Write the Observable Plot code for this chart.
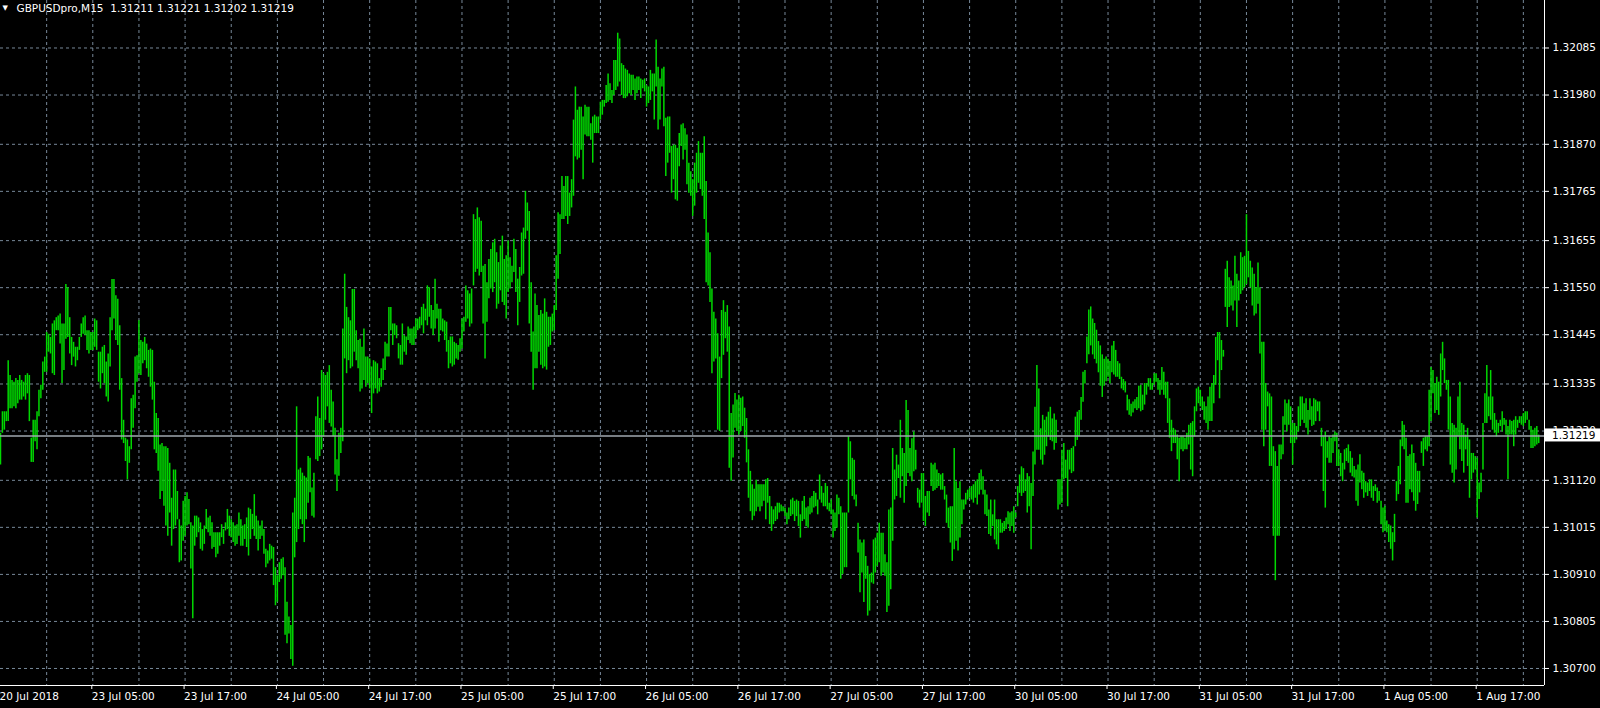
<!DOCTYPE html>
<html><head><meta charset="utf-8">
<script src="https://cdn.jsdelivr.net/npm/d3@7"></script>
<script src="https://cdn.jsdelivr.net/npm/@observablehq/plot@0.6"></script>
<style>
html,body{margin:0;padding:0;background:#000;overflow:hidden}
#chart svg{display:block}
</style></head><body><div id="chart"></div>
<script>
const symbol = "GBPUSDpro";
const period = "M15";
const lastBar = {open: 1.31211, high: 1.31221, low: 1.31202, close: 1.31219};
const timeLabels = ["20 Jul 2018","23 Jul 05:00","23 Jul 17:00","24 Jul 05:00","24 Jul 17:00","25 Jul 05:00","25 Jul 17:00","26 Jul 05:00","26 Jul 17:00","27 Jul 05:00","27 Jul 17:00","30 Jul 05:00","30 Jul 17:00","31 Jul 05:00","31 Jul 17:00","1 Aug 05:00","1 Aug 17:00"];
const priceTicks = [1.32085,1.31980,1.31870,1.31765,1.31655,1.31550,1.31445,1.31335,1.31230,1.31120,1.31015,1.30910,1.30805,1.30700];

const high = [
1.31225,1.31273,1.31273,1.31273,1.31387,1.31354,1.31343,1.31339,1.31347,1.31343,
1.31354,1.31343,1.31339,1.31354,1.31358,1.31354,1.31214,1.31254,1.31254,1.31273,
1.31321,1.31332,1.31384,1.31395,1.31450,1.31446,1.31439,1.31469,1.31476,1.31483,
1.31487,1.31491,1.31469,1.31469,1.31557,1.31550,1.31483,1.31439,1.31428,1.31417,
1.31417,1.31439,1.31469,1.31483,1.31487,1.31454,1.31454,1.31450,1.31450,1.31480,
1.31476,1.31406,1.31406,1.31417,1.31421,1.31384,1.31402,1.31483,1.31568,1.31568,
1.31532,1.31524,1.31465,1.31347,1.31254,1.31214,1.31210,1.31195,1.31302,1.31310,
1.31395,1.31398,1.31476,1.31432,1.31428,1.31439,1.31424,1.31410,1.31413,1.31410,
1.31339,1.31269,1.31258,1.31199,1.31202,1.31195,1.31195,1.31191,1.31158,1.31080,
1.31143,1.31143,1.31095,1.31032,1.31018,1.31073,1.31084,1.31092,1.31077,1.31025,
1.31018,1.31040,1.31040,1.31036,1.31025,1.31010,1.31018,1.31055,1.31036,1.31040,
1.31025,1.31003,1.31003,1.31003,1.31003,1.31021,1.31010,1.31025,1.31055,1.31040,
1.31032,1.31025,1.31018,1.31021,1.31047,1.31032,1.31018,1.31021,1.31036,1.31058,
1.31055,1.31044,1.31088,1.31040,1.31029,1.31018,1.31029,1.31010,1.30966,1.30962,
1.30977,1.30973,1.30970,1.30925,1.30907,1.30936,1.30944,1.30947,1.30925,1.30848,
1.30815,1.30796,1.31047,1.31080,1.31284,1.31143,1.31147,1.31136,1.31129,1.31125,
1.31173,1.31169,1.31103,1.31136,1.31262,1.31306,1.31258,1.31365,1.31358,1.31354,
1.31361,1.31376,1.31321,1.31295,1.31236,1.31166,1.31225,1.31236,1.31458,1.31580,
1.31506,1.31483,1.31476,1.31546,1.31546,1.31454,1.31432,1.31435,1.31417,1.31458,
1.31395,1.31395,1.31391,1.31373,1.31387,1.31384,1.31380,1.31347,1.31369,1.31391,
1.31428,1.31424,1.31506,1.31506,1.31469,1.31469,1.31465,1.31425,1.31421,1.31469,
1.31443,1.31440,1.31462,1.31458,1.31458,1.31462,1.31480,1.31480,1.31484,1.31506,
1.31513,1.31502,1.31554,1.31550,1.31510,1.31499,1.31569,1.31513,1.31502,1.31502,
1.31480,1.31476,1.31473,1.31432,1.31440,1.31440,1.31428,1.31425,1.31421,1.31436,
1.31480,1.31484,1.31554,1.31543,1.31536,1.31547,1.31713,1.31702,1.31728,1.31706,
1.31698,1.31598,1.31602,1.31561,1.31613,1.31635,1.31650,1.31658,1.31628,1.31606,
1.31643,1.31665,1.31613,1.31621,1.31654,1.31617,1.31598,1.31658,1.31635,1.31569,
1.31595,1.31672,1.31683,1.31765,1.31739,1.31720,1.31561,1.31451,1.31536,1.31510,
1.31488,1.31499,1.31491,1.31525,1.31495,1.31484,1.31484,1.31491,1.31510,1.31621,
1.31717,1.31713,1.31798,1.31776,1.31798,1.31798,1.31761,1.31791,1.31924,1.31998,
1.31946,1.31953,1.31953,1.31931,1.31957,1.31953,1.31953,1.31916,1.31931,1.31935,
1.31931,1.31931,1.31964,1.31968,1.31968,1.32001,1.32027,1.32005,1.31990,1.32057,
1.32057,1.32118,1.32105,1.32050,1.32046,1.32038,1.32035,1.32027,1.32024,1.32024,
1.32016,1.32020,1.32020,1.32016,1.32013,1.32016,1.32001,1.31998,1.32035,1.32027,
1.32027,1.32103,1.32042,1.32016,1.32038,1.32042,1.31928,1.31931,1.31931,1.31865,
1.31868,1.31868,1.31861,1.31894,1.31913,1.31916,1.31905,1.31891,1.31828,1.31809,
1.31791,1.31828,1.31850,1.31876,1.31850,1.31850,1.31887,1.31787,1.31672,1.31628,
1.31547,1.31495,1.31480,1.31447,1.31395,1.31499,1.31521,1.31495,1.31510,1.31462,
1.31269,1.31288,1.31314,1.31299,1.31310,1.31303,1.31306,1.31281,1.31258,1.31188,
1.31140,1.31110,1.31100,1.31120,1.31110,1.31110,1.31110,1.31110,1.31121,1.31124,
1.31084,1.31061,1.31054,1.31061,1.31069,1.31069,1.31065,1.31061,1.31058,1.31047,
1.31058,1.31076,1.31080,1.31073,1.31076,1.31073,1.31043,1.31073,1.31084,1.31058,
1.31061,1.31080,1.31084,1.31095,1.31091,1.31076,1.31132,1.31106,1.31091,1.31113,
1.31106,1.31069,1.31076,1.31054,1.31047,1.31087,1.31080,1.31061,1.31047,1.31047,
1.31047,1.31217,1.31206,1.31169,1.31165,1.31087,1.31024,1.30987,1.30980,1.30987,
1.30950,1.30928,1.30910,1.30913,1.30987,1.30991,1.31002,1.31024,1.31002,1.31002,
1.30954,1.30936,1.31054,1.31058,1.31191,1.31143,1.31176,1.31154,1.31254,1.31191,
1.31180,1.31298,1.31276,1.31191,1.31213,1.31228,1.31187,1.31102,1.31098,1.31135,
1.31135,1.31084,1.31095,1.31095,1.31158,1.31154,1.31158,1.31143,1.31135,1.31132,
1.31135,1.31106,1.31087,1.31058,1.31061,1.31061,1.31191,1.31117,1.31102,1.31117,
1.31076,1.31076,1.31091,1.31098,1.31102,1.31106,1.31110,1.31117,1.31121,1.31135,
1.31143,1.31128,1.31098,1.31087,1.31054,1.31076,1.31043,1.31076,1.31032,1.31032,
1.31032,1.31024,1.31028,1.31036,1.31050,1.31047,1.31050,1.31061,1.31047,1.31106,
1.31132,1.31150,1.31146,1.31121,1.31135,1.31128,1.31113,1.31183,1.31283,1.31376,
1.31324,1.31235,1.31265,1.31254,1.31261,1.31272,1.31283,1.31257,1.31268,1.31254,
1.31121,1.31121,1.31187,1.31202,1.31165,1.31187,1.31187,1.31191,1.31195,1.31261,
1.31272,1.31276,1.31305,1.31361,1.31365,1.31440,1.31500,1.31507,1.31480,1.31470,
1.31455,1.31430,1.31420,1.31400,1.31390,1.31395,1.31390,1.31385,1.31420,1.31430,
1.31410,1.31385,1.31380,1.31350,1.31345,1.31340,1.31310,1.31300,1.31290,1.31295,
1.31300,1.31305,1.31330,1.31332,1.31310,1.31336,1.31336,1.31347,1.31347,1.31336,
1.31358,1.31358,1.31347,1.31343,1.31372,1.31361,1.31339,1.31339,1.31302,1.31254,
1.31236,1.31232,1.31221,1.31214,1.31217,1.31217,1.31214,1.31225,1.31243,1.31247,
1.31251,1.31284,1.31324,1.31328,1.31321,1.31306,1.31295,1.31284,1.31306,1.31328,
1.31336,1.31354,1.31439,1.31450,1.31450,1.31432,1.31410,1.31591,1.31609,1.31572,
1.31565,1.31554,1.31620,1.31580,1.31565,1.31628,1.31617,1.31620,1.31713,1.31631,
1.31609,1.31594,1.31580,1.31550,1.31605,1.31550,1.31428,1.31428,1.31336,1.31317,
1.31313,1.31306,1.31195,1.31184,1.31151,1.31199,1.31199,1.31262,1.31299,1.31291,
1.31299,1.31284,1.31247,1.31247,1.31240,1.31284,1.31306,1.31306,1.31291,1.31302,
1.31276,1.31302,1.31284,1.31302,1.31299,1.31295,1.31295,1.31236,1.31217,1.31228,
1.31206,1.31217,1.31214,1.31221,1.31228,1.31225,1.31188,1.31180,1.31158,1.31188,
1.31191,1.31199,1.31184,1.31169,1.31151,1.31143,1.31154,1.31177,1.31140,1.31136,
1.31117,1.31114,1.31121,1.31121,1.31106,1.31110,1.31103,1.31095,1.31073,1.31058,
1.31062,1.31029,1.31021,1.31018,1.31003,1.31044,1.31117,1.31151,1.31210,1.31251,
1.31243,1.31214,1.31173,1.31177,1.31199,1.31180,1.31158,1.31140,1.31140,1.31206,
1.31214,1.31217,1.31217,1.31321,1.31372,1.31365,1.31336,1.31350,1.31339,1.31402,
1.31428,1.31391,1.31343,1.31343,1.31306,1.31247,1.31243,1.31236,1.31306,1.31339,
1.31247,1.31243,1.31221,1.31236,1.31210,1.31180,1.31180,1.31173,1.31169,1.31114,
1.31136,1.31247,1.31313,1.31376,1.31306,1.31365,1.31306,1.31269,1.31254,1.31247,
1.31254,1.31273,1.31258,1.31254,1.31240,1.31254,1.31251,1.31254,1.31262,1.31254,
1.31262,1.31262,1.31269,1.31273,1.31273,1.31254,1.31240,1.31232,1.31236,1.31240,
1.31221];

const low = [
1.31154,1.31225,1.31232,1.31251,1.31251,1.31280,1.31280,1.31284,1.31280,1.31291,
1.31299,1.31299,1.31306,1.31299,1.31313,1.31251,1.31160,1.31160,1.31206,1.31188,
1.31262,1.31302,1.31321,1.31361,1.31361,1.31406,1.31402,1.31358,1.31354,1.31454,
1.31454,1.31424,1.31336,1.31365,1.31435,1.31439,1.31402,1.31376,1.31395,1.31373,
1.31387,1.31410,1.31439,1.31446,1.31443,1.31410,1.31402,1.31410,1.31410,1.31417,
1.31410,1.31339,1.31324,1.31358,1.31336,1.31306,1.31295,1.31373,1.31454,1.31480,
1.31432,1.31421,1.31321,1.31210,1.31202,1.31162,1.31121,1.31158,1.31188,1.31236,
1.31280,1.31339,1.31358,1.31354,1.31380,1.31387,1.31369,1.31350,1.31328,1.31299,
1.31188,1.31180,1.31140,1.31077,1.31095,1.31062,1.31018,1.30995,1.31047,1.30973,
1.31010,1.31018,1.31032,1.30936,1.30940,1.30984,1.30995,1.31018,1.31021,1.30922,
1.30811,1.30973,1.30992,1.31003,1.30966,1.30962,1.30977,1.31010,1.31003,1.30995,
1.30966,1.30970,1.30947,1.30955,1.30973,1.30992,1.30977,1.31007,1.31010,1.30995,
1.30992,1.30981,1.30973,1.30977,1.30995,1.30973,1.30973,1.30988,1.30970,1.30951,
1.30988,1.31010,1.30995,1.30988,1.30962,1.30988,1.30995,1.30955,1.30925,1.30933,
1.30940,1.30944,1.30885,1.30840,1.30848,1.30892,1.30899,1.30907,1.30774,1.30755,
1.30777,1.30720,1.30705,1.30947,1.30981,1.31010,1.31032,1.31021,1.30981,1.31032,
1.31069,1.31092,1.31040,1.31036,1.31166,1.31162,1.31173,1.31188,1.31217,1.31254,
1.31284,1.31247,1.31239,1.31217,1.31132,1.31095,1.31129,1.31180,1.31206,1.31391,
1.31358,1.31387,1.31369,1.31373,1.31406,1.31387,1.31369,1.31317,1.31324,1.31343,
1.31328,1.31336,1.31324,1.31269,1.31313,1.31324,1.31313,1.31317,1.31328,1.31343,
1.31365,1.31395,1.31395,1.31454,1.31421,1.31443,1.31436,1.31391,1.31377,1.31377,
1.31406,1.31399,1.31432,1.31425,1.31421,1.31421,1.31436,1.31454,1.31458,1.31465,
1.31447,1.31476,1.31465,1.31484,1.31458,1.31443,1.31458,1.31480,1.31428,1.31454,
1.31451,1.31432,1.31406,1.31369,1.31380,1.31373,1.31377,1.31391,1.31388,1.31406,
1.31413,1.31451,1.31473,1.31480,1.31462,1.31469,1.31554,1.31584,1.31591,1.31576,
1.31584,1.31469,1.31391,1.31473,1.31525,1.31547,1.31539,1.31561,1.31502,1.31513,
1.31543,1.31517,1.31510,1.31480,1.31539,1.31547,1.31561,1.31584,1.31539,1.31465,
1.31517,1.31576,1.31580,1.31658,1.31676,1.31469,1.31406,1.31321,1.31369,1.31369,
1.31406,1.31377,1.31369,1.31373,1.31366,1.31417,1.31421,1.31451,1.31454,1.31499,
1.31569,1.31624,1.31702,1.31702,1.31709,1.31691,1.31709,1.31728,1.31754,1.31842,
1.31835,1.31839,1.31857,1.31791,1.31891,1.31887,1.31887,1.31879,1.31828,1.31894,
1.31894,1.31894,1.31924,1.31935,1.31953,1.31961,1.31964,1.31968,1.31961,1.31979,
1.31990,1.31998,1.32009,1.31979,1.31972,1.31972,1.31976,1.31983,1.31979,1.31990,
1.31968,1.31983,1.31990,1.31972,1.31994,1.31987,1.31953,1.31961,1.31968,1.31987,
1.31924,1.31998,1.31902,1.31924,1.31998,1.31909,1.31798,1.31828,1.31850,1.31761,
1.31791,1.31746,1.31743,1.31820,1.31865,1.31835,1.31857,1.31780,1.31761,1.31754,
1.31709,1.31732,1.31761,1.31783,1.31769,1.31754,1.31702,1.31561,1.31554,1.31517,
1.31358,1.31384,1.31391,1.31232,1.31229,1.31347,1.31399,1.31436,1.31406,1.31147,
1.31118,1.31170,1.31236,1.31229,1.31221,1.31229,1.31240,1.31214,1.31159,1.31080,
1.31050,1.31030,1.31040,1.31050,1.31060,1.31050,1.31061,1.31073,1.31032,1.31069,
1.31021,1.31006,1.31021,1.31028,1.31032,1.31047,1.31050,1.31050,1.31039,1.31021,
1.31032,1.31039,1.31043,1.31028,1.31039,1.31017,1.30991,1.31028,1.31032,1.31017,
1.31013,1.31043,1.31047,1.31058,1.31061,1.31043,1.31076,1.31069,1.31061,1.31061,
1.31054,1.31050,1.31043,1.30991,1.31006,1.31013,1.31043,1.30899,1.30910,1.30925,
1.30925,1.31047,1.31121,1.31084,1.31076,1.31061,1.30958,1.30869,1.30913,1.30847,
1.30899,1.30817,1.30828,1.30891,1.30888,1.30913,1.30928,1.30936,1.30906,1.30913,
1.30906,1.30825,1.30839,1.30876,1.30984,1.31076,1.31084,1.31124,1.31080,1.31128,
1.31069,1.31106,1.31135,1.31128,1.31117,1.31139,1.31143,1.31069,1.31058,1.31069,
1.31028,1.31017,1.31047,1.31039,1.31106,1.31095,1.31098,1.31102,1.31106,1.31098,
1.31098,1.31076,1.31024,1.31013,1.30980,1.30939,1.30965,1.30984,1.30962,1.30991,
1.31021,1.31054,1.31065,1.31076,1.31080,1.31076,1.31069,1.31080,1.31065,1.31087,
1.31098,1.31087,1.31043,1.31039,1.30999,1.30995,1.31017,1.30987,1.30976,1.30965,
1.31002,1.31002,1.31006,1.31010,1.31021,1.31006,1.31017,1.31002,1.31036,1.31061,
1.31091,1.31084,1.31091,1.31095,1.31047,1.31061,1.30965,1.31084,1.31154,1.31187,
1.31187,1.31165,1.31154,1.31176,1.31195,1.31217,1.31209,1.31206,1.31187,1.31202,
1.31054,1.31065,1.31069,1.31121,1.31124,1.31061,1.31143,1.31135,1.31139,1.31195,
1.31209,1.31217,1.31254,1.31294,1.31335,1.31380,1.31400,1.31420,1.31400,1.31390,
1.31380,1.31360,1.31330,1.31305,1.31330,1.31340,1.31350,1.31335,1.31360,1.31355,
1.31350,1.31350,1.31345,1.31324,1.31320,1.31315,1.31275,1.31265,1.31262,1.31270,
1.31280,1.31276,1.31280,1.31273,1.31276,1.31288,1.31310,1.31328,1.31321,1.31321,
1.31332,1.31339,1.31321,1.31310,1.31321,1.31310,1.31302,1.31247,1.31214,1.31184,
1.31202,1.31202,1.31166,1.31117,1.31188,1.31184,1.31188,1.31188,1.31199,1.31143,
1.31128,1.31217,1.31273,1.31291,1.31284,1.31276,1.31254,1.31247,1.31232,1.31251,
1.31251,1.31291,1.31332,1.31387,1.31302,1.31365,1.31395,1.31506,1.31461,1.31506,
1.31509,1.31498,1.31520,1.31461,1.31520,1.31535,1.31543,1.31550,1.31557,1.31572,
1.31550,1.31509,1.31487,1.31491,1.31513,1.31402,1.31232,1.31195,1.31232,1.31284,
1.31151,1.31151,1.30995,1.30896,1.30995,1.30995,1.31166,1.31177,1.31243,1.31228,
1.31243,1.31202,1.31154,1.31202,1.31210,1.31228,1.31240,1.31254,1.31247,1.31236,
1.31221,1.31254,1.31240,1.31243,1.31251,1.31273,1.31251,1.31195,1.31095,1.31058,
1.31169,1.31158,1.31158,1.31180,1.31206,1.31151,1.31151,1.31128,1.31117,1.31143,
1.31162,1.31158,1.31136,1.31128,1.31125,1.31073,1.31062,1.31114,1.31099,1.31080,
1.31092,1.31084,1.31095,1.31080,1.31073,1.31095,1.31069,1.31073,1.31021,1.31003,
1.31007,1.31003,1.30981,1.30966,1.30940,1.30981,1.31073,1.31088,1.31110,1.31195,
1.31188,1.31069,1.31069,1.31099,1.31092,1.31073,1.31051,1.31066,1.31092,1.31180,
1.31151,1.31188,1.31184,1.31195,1.31251,1.31313,1.31269,1.31276,1.31265,1.31306,
1.31365,1.31336,1.31321,1.31232,1.31154,1.31136,1.31114,1.31143,1.31217,1.31188,
1.31162,1.31136,1.31188,1.31151,1.31080,1.31121,1.31136,1.31143,1.31036,1.31077,
1.31092,1.31143,1.31247,1.31247,1.31262,1.31254,1.31232,1.31225,1.31217,1.31225,
1.31240,1.31228,1.31243,1.31221,1.31121,1.31221,1.31221,1.31195,1.31221,1.31236,
1.31247,1.31243,1.31240,1.31247,1.31254,1.31232,1.31191,1.31191,1.31195,1.31199,
1.31202];

const barsPerLabel = 48;   // 12 hours of M15 bars
const barsPerGrid = 24;    // 6 hours
const xDomain = [0, 803];
const yDomain = [1.30662, 1.32191];
const bars = high.map((h, i) => ({i, high: h, low: low[i]}));
const labelIdx = timeLabels.map((_, k) => k * barsPerLabel);
const gridIdx = d3.range(barsPerGrid, xDomain[1], barsPerGrid);
const fmt = d => d.toFixed(5);
const title = `${symbol},${period}\u00a0\u00a0${fmt(lastBar.open)} ${fmt(lastBar.high)} ${fmt(lastBar.low)} ${fmt(lastBar.close)}`;
const font = "DejaVu Sans";
const gridColor = "#778899";

const plot = Plot.plot({
  width: 1600,
  height: 708,
  marginLeft: 0,
  marginRight: 56,
  marginTop: 0,
  marginBottom: 23,
  style: {background: "#000", color: "#fff", fontFamily: font, fontSize: "10.5px"},
  x: {type: "linear", domain: xDomain},
  y: {type: "linear", domain: yDomain},
  marks: [
    Plot.gridY(priceTicks, {stroke: gridColor, strokeOpacity: 1, strokeDasharray: "3,3"}),
    Plot.gridX(gridIdx, {stroke: gridColor, strokeOpacity: 1, strokeDasharray: "3,3"}),
    Plot.ruleX(bars, {x: "i", y1: "low", y2: "high", stroke: "#00d800", strokeWidth: 1.5, clip: true}),
    Plot.ruleY([lastBar.close], {stroke: "#a0a8b0", strokeWidth: 1.6}),
    Plot.ruleY([yDomain[0]], {stroke: "#fff", strokeWidth: 1}),
    Plot.ruleX([xDomain[1]], {stroke: "#fff", strokeWidth: 1}),
    Plot.axisY(priceTicks, {anchor: "right", tickSize: 4, tickPadding: 4, tickFormat: fmt, label: null, color: "#fff", fontSize: 10.5}),
    Plot.axisX(labelIdx, {anchor: "bottom", tickSize: 4, tickPadding: 3, tickFormat: d => timeLabels[d / barsPerLabel], label: null, textAnchor: "start", dx: -1, color: "#fff", fontSize: 10.5}),
    Plot.text([title], {text: d => d, frameAnchor: "top-left", dx: 16, dy: 4, textAnchor: "start", lineAnchor: "top", fill: "#fff", fontSize: 10.5}),
    Plot.text(["\u25BC"], {text: d => d, frameAnchor: "top-left", dx: 2, dy: 5, textAnchor: "start", lineAnchor: "top", fill: "#fff", fontSize: 7})
  ]
});

// current price label box on the price axis
const svg = d3.select(plot);
const yPix = plot.scale("y").apply(lastBar.close);
const xRight = plot.scale("x").range[1];
const g = svg.append("g");
g.append("rect").attr("x", xRight + 1).attr("y", yPix - 7).attr("width", 1600 - xRight).attr("height", 13).attr("fill", "#fff");
g.append("text").attr("x", xRight + 8).attr("y", yPix).attr("dy", "0.35em")
  .attr("text-anchor", "start")
  .attr("fill", "#000").attr("font-family", font).attr("font-size", "10.5px").text(fmt(lastBar.close));

document.getElementById("chart").appendChild(plot);
</script></body></html>
